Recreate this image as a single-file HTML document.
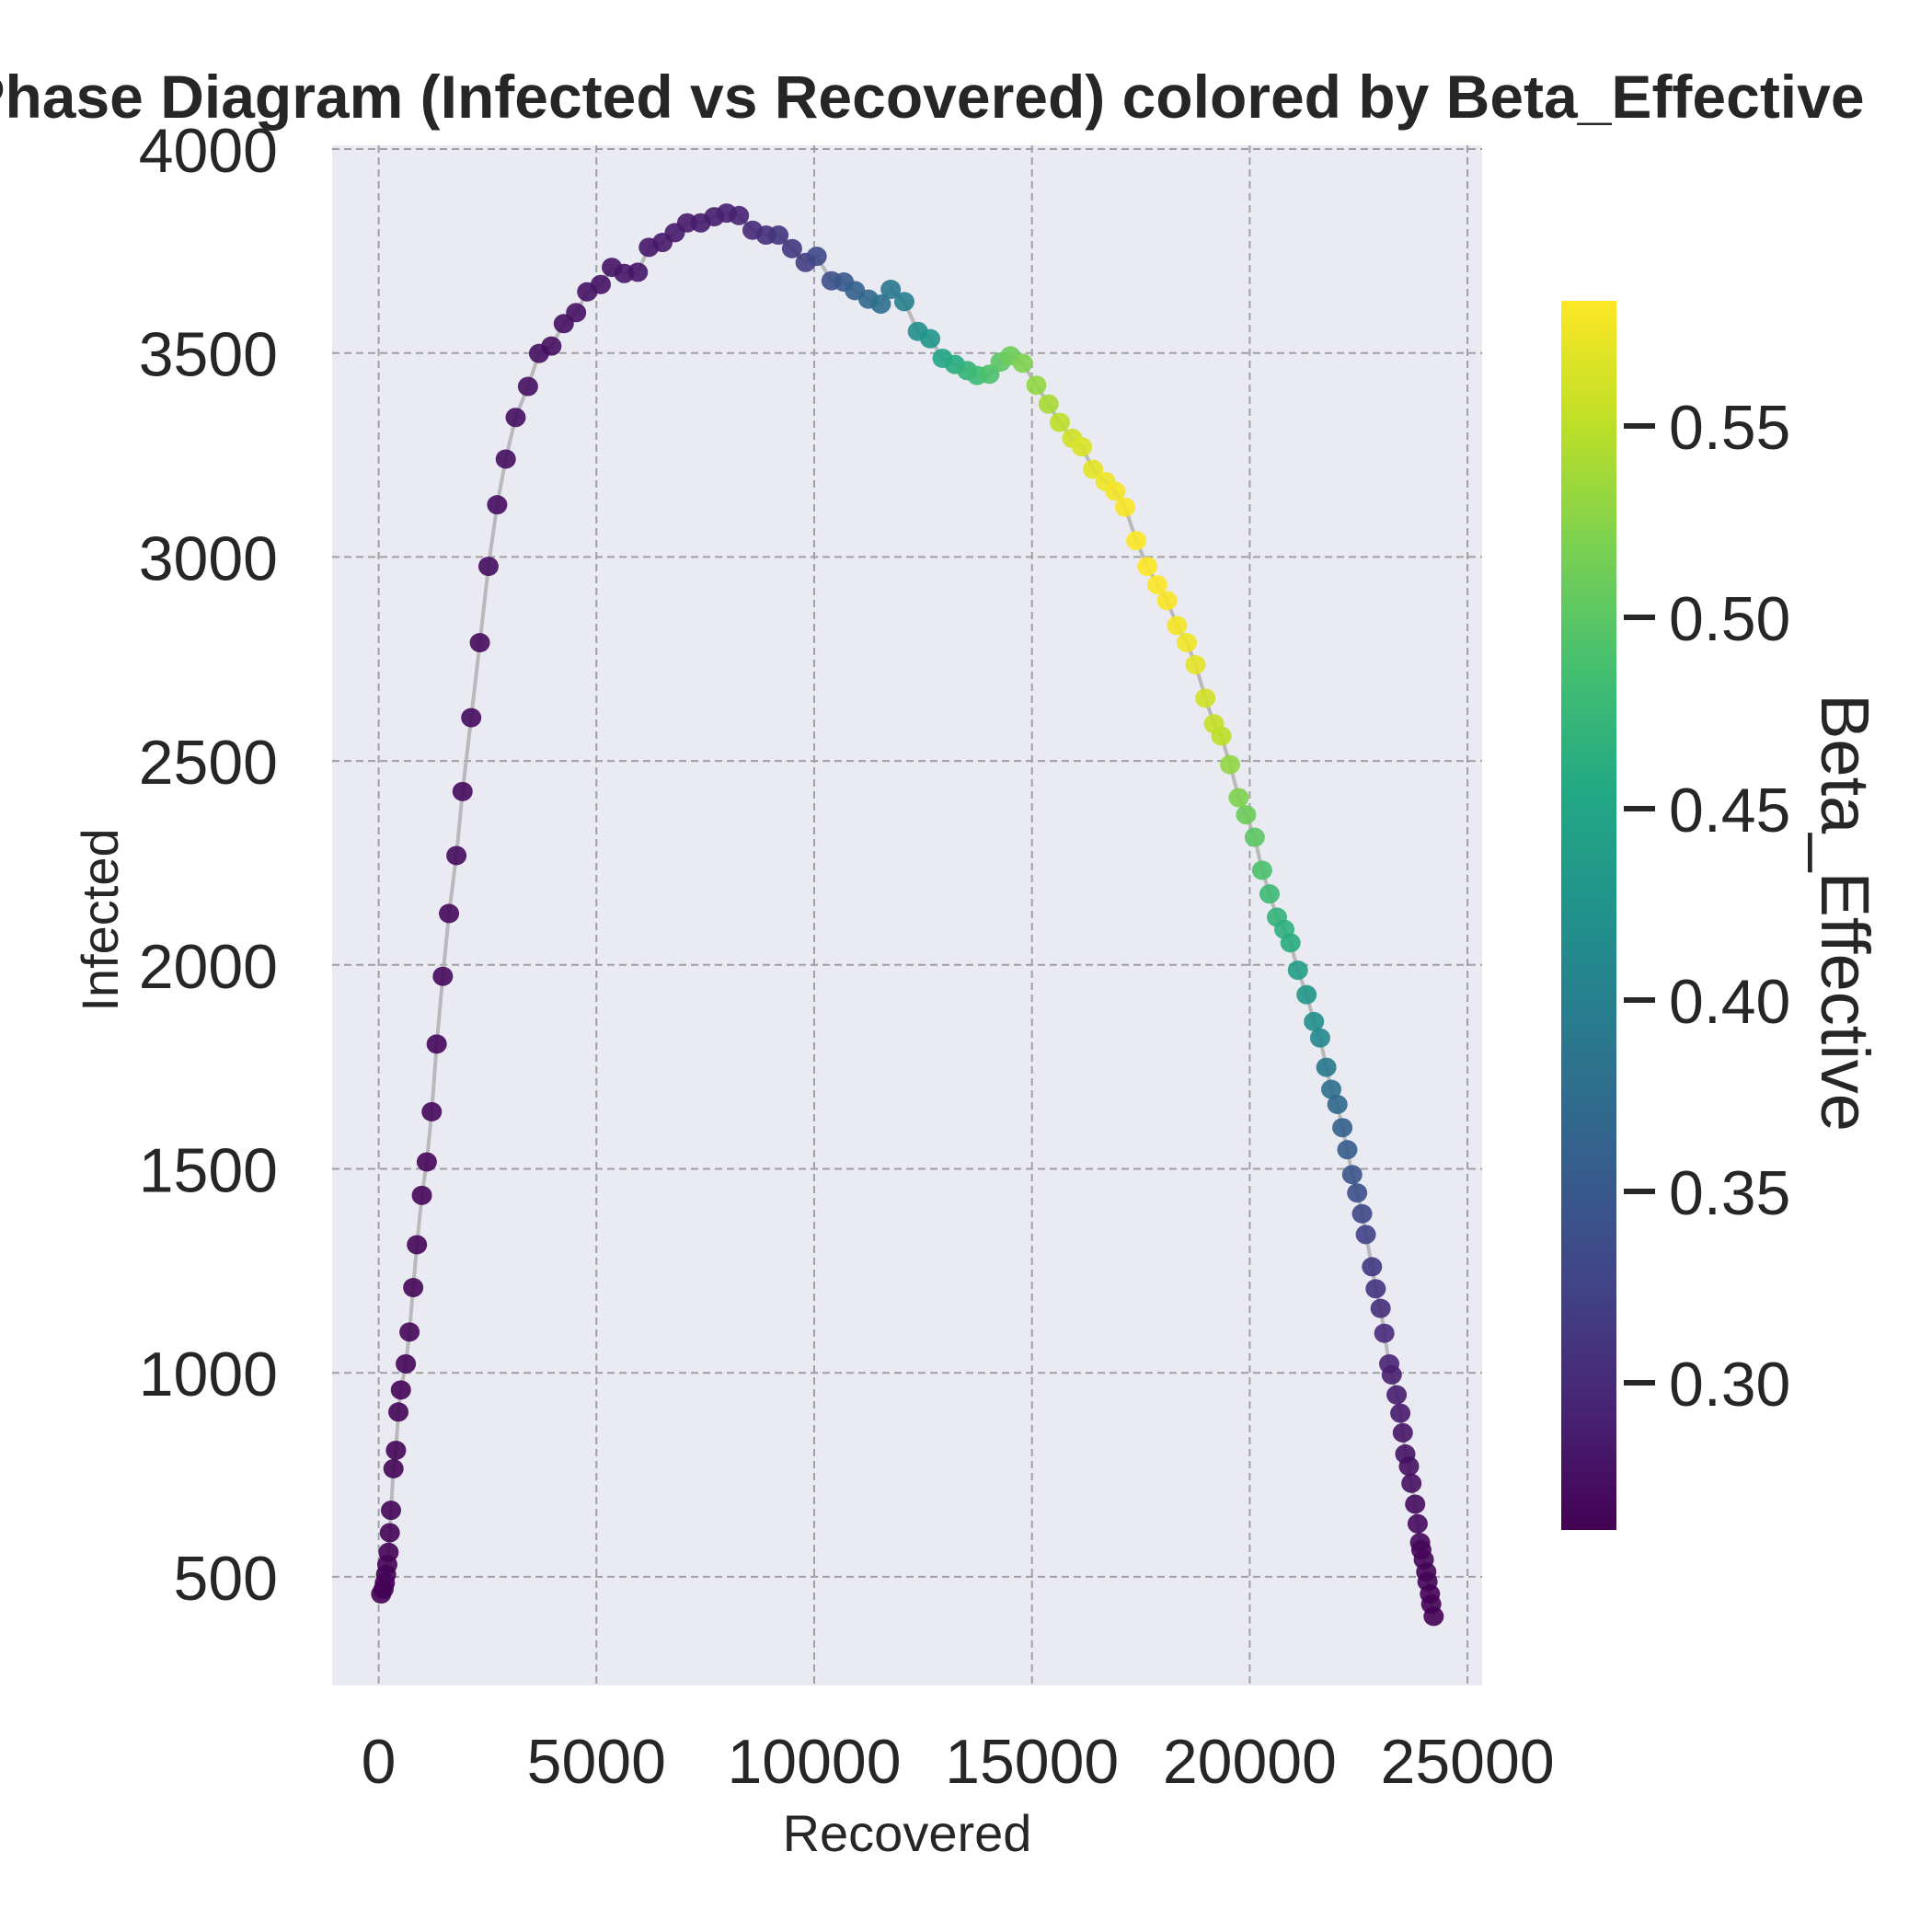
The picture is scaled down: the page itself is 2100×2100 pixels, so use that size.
<!DOCTYPE html>
<html><head><meta charset="utf-8">
<style>
html,body{margin:0;padding:0;background:#fff;}
svg{display:block;font-family:"Liberation Sans",Arial,sans-serif;}
</style></head>
<body>
<svg id="chart" width="2100" height="2100" viewBox="0 0 2100 2100" xmlns="http://www.w3.org/2000/svg">
<defs>
<linearGradient id="viridis" x1="0" y1="1" x2="0" y2="0">
<stop offset="0" stop-color="#440154"/><stop offset="0.1" stop-color="#482475"/><stop offset="0.2" stop-color="#414487"/><stop offset="0.3" stop-color="#355f8d"/><stop offset="0.4" stop-color="#2a788e"/><stop offset="0.5" stop-color="#21918c"/><stop offset="0.6" stop-color="#22a884"/><stop offset="0.7" stop-color="#44bf70"/><stop offset="0.8" stop-color="#7ad151"/><stop offset="0.9" stop-color="#bddf26"/><stop offset="1" stop-color="#fde725"/>
</linearGradient>
</defs>
<rect x="361" y="158" width="1250" height="1674" fill="#eaeaf2"/>
<g id="grid"></g>
<g id="series"></g>
<g id="axes"></g>
<text x="994" y="128" text-anchor="middle" font-size="66" font-weight="bold" fill="#262626">Phase Diagram (Infected vs Recovered) colored by Beta_Effective</text>
<text x="986" y="2012" text-anchor="middle" font-size="56" fill="#262626">Recovered</text>
<text transform="translate(128,1000) rotate(-90)" text-anchor="middle" font-size="56" fill="#262626">Infected</text>
<rect x="1697" y="327" width="60" height="1336" fill="url(#viridis)"/>
<g id="cbticks"></g>
<text transform="translate(1980,992) rotate(90)" text-anchor="middle" font-size="74" fill="#262626">Beta_Effective</text>
</svg>
<script>
const recovered = [57,113,142,170,198,227,255,283,340,397,453,510,623,708,793,878,992,1105,1218,1332,1473,1615,1785,1926,2125,2323,2521,2720,2918,3145,3428,3683,3966,4250,4533,4788,5099,5354,5638,5949,6204,6516,6799,7083,7394,7706,7989,8272,8584,8896,9179,9491,9802,10057,10397,10680,10935,11247,11530,11757,12069,12380,12663,12947,13230,13513,13740,14023,14278,14505,14788,15100,15383,15638,15922,16148,16403,16687,16913,17140,17395,17650,17876,18103,18330,18556,18755,18981,19180,19350,19548,19746,19916,20115,20285,20455,20625,20795,20936,21106,21305,21475,21616,21758,21872,22013,22127,22240,22353,22467,22580,22665,22807,22892,23005,23090,23203,23260,23373,23458,23515,23572,23656,23713,23798,23855,23912,23940,23996,24053,24082,24138,24167,24223];
const infected = [458,470,485,506,530,560,608,663,765,810,904,958,1022,1100,1209,1314,1435,1517,1640,1806,1972,2126,2268,2425,2606,2790,2977,3128,3240,3342,3418,3499,3517,3572,3599,3650,3668,3710,3695,3698,3759,3771,3795,3819,3819,3834,3843,3837,3801,3789,3789,3756,3722,3737,3677,3674,3653,3632,3620,3656,3626,3553,3535,3487,3472,3457,3445,3448,3478,3493,3475,3421,3375,3330,3291,3270,3215,3185,3161,3122,3040,2977,2932,2893,2832,2790,2736,2654,2591,2561,2491,2410,2368,2313,2232,2174,2117,2087,2054,1987,1927,1861,1821,1749,1695,1658,1601,1547,1486,1441,1390,1339,1260,1206,1158,1097,1022,995,946,901,853,801,771,729,678,630,584,566,542,512,488,458,433,403];
const beta = [0.262,0.262,0.262,0.263,0.263,0.263,0.263,0.264,0.264,0.264,0.265,0.265,0.265,0.266,0.266,0.266,0.267,0.267,0.268,0.268,0.269,0.269,0.27,0.27,0.271,0.271,0.272,0.272,0.273,0.273,0.274,0.274,0.275,0.275,0.276,0.277,0.278,0.279,0.28,0.281,0.282,0.283,0.284,0.285,0.286,0.288,0.29,0.292,0.3,0.305,0.31,0.315,0.32,0.33,0.34,0.35,0.36,0.37,0.38,0.39,0.4,0.42,0.43,0.45,0.46,0.47,0.48,0.49,0.5,0.51,0.52,0.53,0.54,0.55,0.56,0.565,0.57,0.575,0.578,0.58,0.582,0.582,0.582,0.58,0.578,0.575,0.57,0.56,0.555,0.55,0.53,0.52,0.51,0.5,0.49,0.48,0.47,0.465,0.46,0.44,0.43,0.42,0.41,0.39,0.38,0.37,0.36,0.355,0.345,0.34,0.33,0.325,0.315,0.31,0.305,0.3,0.295,0.29,0.288,0.285,0.28,0.278,0.276,0.274,0.272,0.27,0.268,0.267,0.266,0.265,0.264,0.263,0.262,0.261];
const xTicks = [0,5000,10000,15000,20000,25000];
const yTicks = [500,1000,1500,2000,2500,3000,3500,4000];
const cTicks = [0.30,0.35,0.40,0.45,0.50,0.55];
const cMin = 0.2615, cMax = 0.5827;

const NS = "http://www.w3.org/2000/svg";
function xs(v){ return 411.6 + v * 236.7/5000; }
function ys(v){ return 162 + (4000 - v) * 221.7/500; }
function cs(v){ return 463 + (0.55 - v) * 208/0.05; }
const stops = [[68,1,84],[72,36,117],[65,68,135],[53,95,141],[42,120,142],[33,145,140],[34,168,132],[68,191,112],[122,209,81],[189,223,38],[253,231,37]];
function viridis(v){
  let t = Math.max(0, Math.min(1, (v - cMin)/(cMax - cMin))) * 10;
  let i = Math.min(9, Math.floor(t)), f = t - i;
  const a = stops[i], b = stops[i+1];
  return "rgb(" + a.map((c,k)=>Math.round(c + (b[k]-c)*f)).join(",") + ")";
}
function mk(tag, attrs, parent){
  const e = document.createElementNS(NS, tag);
  for (const k in attrs) e.setAttribute(k, attrs[k]);
  parent.appendChild(e); return e;
}
const grid = document.getElementById("grid");
const axes = document.getElementById("axes");
xTicks.forEach(t=>{
  const l = mk("line",{x1:xs(t),x2:xs(t),y1:158,y2:1832,stroke:"#a0a0a0","stroke-width":2,"stroke-dasharray":"8,5"},grid);
  
  
  const tx = mk("text",{x:xs(t),y:1938,"text-anchor":"middle","font-size":68,fill:"#262626"},axes);
  tx.textContent = t;
  
  
});
yTicks.forEach(t=>{
  const l = mk("line",{x1:361,x2:1611,y1:ys(t),y2:ys(t),stroke:"#a0a0a0","stroke-width":2,"stroke-dasharray":"8,5"},grid);
  
  
  const tx = mk("text",{x:302,y:ys(t)+25,"text-anchor":"end","font-size":68,fill:"#262626"},axes);
  tx.textContent = t;
  
  
});
const series = document.getElementById("series");
const pts = recovered.map((r,i)=>xs(r).toFixed(1)+","+ys(infected[i]).toFixed(1)).join(" ");
const line = mk("polyline",{points:pts,fill:"none",stroke:"#b0b0b0","stroke-opacity":0.85,"stroke-width":4},series);


recovered.forEach((r,i)=>{
  const c = mk("ellipse",{cx:xs(r),cy:ys(infected[i]),rx:11,ry:10.5,fill:viridis(beta[i]),"fill-opacity":0.9},series);
  
  
});
const cb = document.getElementById("cbticks");
cTicks.forEach(t=>{
  const l = mk("line",{x1:1765,x2:1799,y1:cs(t),y2:cs(t),stroke:"#262626","stroke-width":6},cb);
  
  
  const tx = mk("text",{x:1814,y:cs(t)+25,"font-size":68,fill:"#262626"},cb);
  tx.textContent = t.toFixed(2);
  
  
});
</script>
</body></html>
